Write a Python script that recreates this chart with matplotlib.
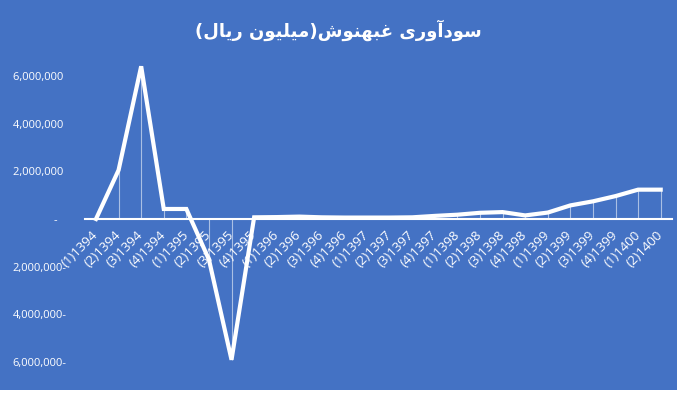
import matplotlib.pyplot as plt
from matplotlib.patches import Rectangle
from matplotlib.ticker import FuncFormatter

# quarterly profit, million rials
quarters = ["(1)1394", "(2)1394", "(3)1394", "(4)1394",
            "(1)1395", "(2)1395", "(3)1395", "(4)1395",
            "(1)1396", "(2)1396", "(3)1396", "(4)1396",
            "(1)1397", "(2)1397", "(3)1397", "(4)1397",
            "(1)1398", "(2)1398", "(3)1398", "(4)1398",
            "(1)1399", "(2)1399", "(3)1399", "(4)1399",
            "(1)1400", "(2)1400"]
profit = [0, 2050000, 6400000, 420000,
          420000, -1700000, -5900000, 70000,
          80000, 100000, 70000, 60000,
          60000, 60000, 70000, 130000,
          180000, 260000, 290000, 150000,
          270000, 570000, 740000, 960000,
          1230000, 1230000]
yticks = [-6000000, -4000000, -2000000, 0, 2000000, 4000000, 6000000]
title = "سودآوری غبهنوش(میلیون ریال)"

BLUE = "#4472C4"

# =========================
# minimal arabic shaping (no reshaper lib available)
# =========================
# letter: (isolated, final, initial, medial)
FORMS = {
    "ا": ("\uFE8D", "\uFE8E", None, None),
    "آ": ("\uFE81", "\uFE82", None, None),
    "ب": ("\uFE8F", "\uFE90", "\uFE91", "\uFE92"),
    "د": ("\uFEA9", "\uFEAA", None, None),
    "ر": ("\uFEAD", "\uFEAE", None, None),
    "س": ("\uFEB1", "\uFEB2", "\uFEB3", "\uFEB4"),
    "ش": ("\uFEB5", "\uFEB6", "\uFEB7", "\uFEB8"),
    "غ": ("\uFECD", "\uFECE", "\uFECF", "\uFED0"),
    "ل": ("\uFEDD", "\uFEDE", "\uFEDF", "\uFEE0"),
    "م": ("\uFEE1", "\uFEE2", "\uFEE3", "\uFEE4"),
    "ن": ("\uFEE5", "\uFEE6", "\uFEE7", "\uFEE8"),
    "ه": ("\uFEE9", "\uFEEA", "\uFEEB", "\uFEEC"),
    "و": ("\uFEED", "\uFEEE", None, None),
    "ی": ("\uFBFC", "\uFBFD", "\uFBFE", "\uFBFF"),
}


def rtl(text):
    out = []
    for i, ch in enumerate(text):
        if ch not in FORMS:
            out.append(ch)
            continue
        prev = text[i - 1] if i > 0 else ""
        nxt = text[i + 1] if i + 1 < len(text) else ""
        join_prev = prev in FORMS and FORMS[prev][2] is not None
        join_next = FORMS[ch][2] is not None and nxt in FORMS
        iso, fin, ini, med = FORMS[ch]
        if join_prev and join_next:
            out.append(med)
        elif join_prev:
            out.append(fin)
        elif join_next:
            out.append(ini)
        else:
            out.append(iso)
    vis = "".join(reversed(out))
    return vis.translate(str.maketrans("()", ")("))


def fmt(v, pos):
    if v == 0:
        return "-   "
    if v < 0:
        return f"{-v:,.0f}-"
    return f"{v:,.0f} "


fig = plt.figure(figsize=(7, 4), dpi=100, facecolor="white")
fig.patches.append(Rectangle((0, 10 / 400), 677 / 700, 390 / 400,
                             transform=fig.transFigure, facecolor=BLUE,
                             edgecolor="none", zorder=-5))

ax = fig.add_axes([84.7 / 700, 14 / 400, 587.3 / 700, 334 / 400])
ax.set_facecolor("none")
ax.set_zorder(2)

x = list(range(len(quarters)))
ax.vlines(x, 0, profit, color="white", lw=0.8, alpha=0.55, zorder=2)
ax.plot(x, profit, color="white", lw=3, solid_joinstyle="miter", zorder=3)

ax.set_xlim(-0.5, len(quarters) - 0.5)
ax.set_ylim(-7000000, 7000000)

for s in ["top", "right", "left"]:
    ax.spines[s].set_visible(False)
ax.spines["bottom"].set_position(("data", 0))
ax.spines["bottom"].set_color("white")
ax.spines["bottom"].set_linewidth(1.5)

ax.set_xticks(x)
ax.set_xticklabels(quarters, rotation=45, ha="right", va="center",
                   rotation_mode="anchor", color="white", fontsize=9.5,
                   family="Open Sans")
ax.tick_params(axis="x", length=0, pad=10)

ax.set_yticks(yticks)
ax.yaxis.set_major_formatter(FuncFormatter(fmt))
ax.tick_params(axis="y", length=0, pad=13, labelcolor="white", labelsize=8)
for lbl in ax.get_yticklabels():
    lbl.set_family("Open Sans")

fig.text(338 / 700, 1 - 30 / 400, rtl(title), ha="center", va="center",
         color="white", fontsize=13, fontweight="bold", family="DejaVu Sans",
         zorder=3)

fig.savefig("out.png", dpi=100, facecolor=fig.get_facecolor())
